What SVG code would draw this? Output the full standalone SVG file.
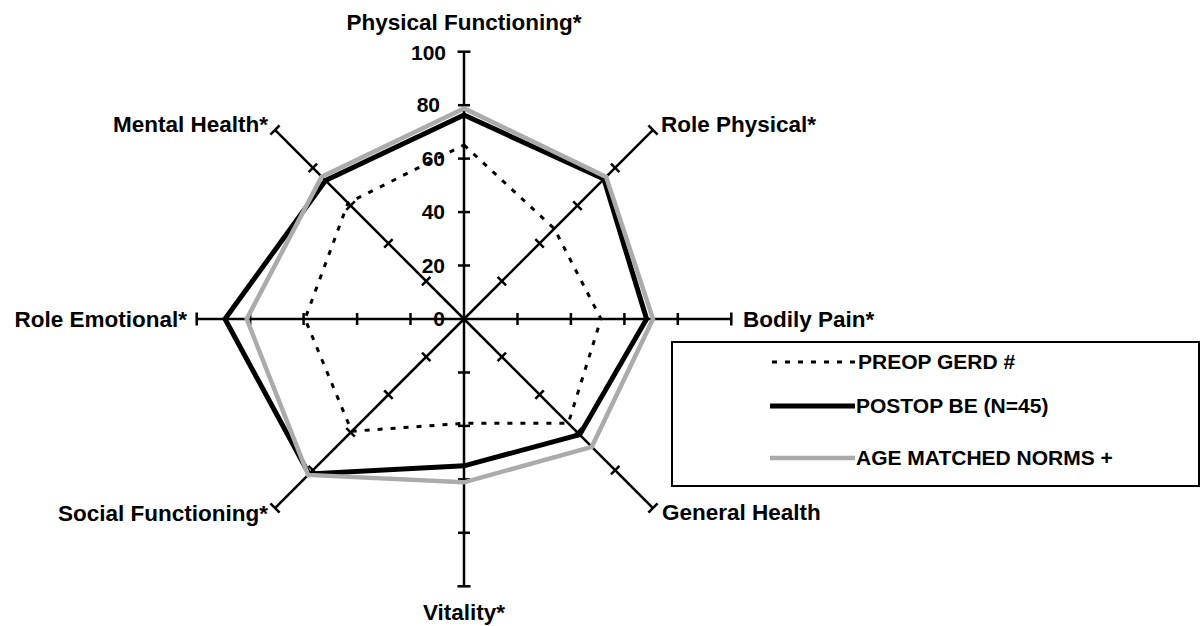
<svg xmlns="http://www.w3.org/2000/svg" xmlns:xlink="http://www.w3.org/1999/xlink" width="1202" height="626" viewBox="0 0 1202 626">
<style>
.lbl{font-family:"Liberation Sans",Arial,sans-serif;font-weight:bold;font-size:22.5px;fill:#000}
.num{font-family:"Liberation Sans",Arial,sans-serif;font-weight:bold;font-size:21px;fill:#000;text-anchor:end}
.leg{font-family:"Liberation Sans",Arial,sans-serif;font-weight:bold;font-size:21px;fill:#000}
.ax{stroke:#000;stroke-width:2.5;fill:none}
.pre{stroke:#000;stroke-width:3;stroke-dasharray:5 8;fill:none}
.post{stroke:#000;stroke-width:5;fill:none;stroke-linejoin:miter}
.norm{stroke:#ababab;stroke-width:4.5;fill:none;stroke-linejoin:miter}
</style>
<defs>
<g id="axis">
<line class="ax" x1="464" y1="319" x2="464" y2="51.7"/>
<line class="ax" x1="458" y1="265.5" x2="470" y2="265.5"/>
<line class="ax" x1="458" y1="212.1" x2="470" y2="212.1"/>
<line class="ax" x1="458" y1="158.6" x2="470" y2="158.6"/>
<line class="ax" x1="458" y1="105.2" x2="470" y2="105.2"/>
<line class="ax" x1="457.5" y1="51.7" x2="470.5" y2="51.7"/>
</g>
</defs>
<rect width="1202" height="626" fill="#fff"/>
<g id="axes">
<use xlink:href="#axis"/>
<use xlink:href="#axis" transform="rotate(45 464 319)"/>
<use xlink:href="#axis" transform="rotate(90 464 319)"/>
<use xlink:href="#axis" transform="rotate(135 464 319)"/>
<use xlink:href="#axis" transform="rotate(180 464 319)"/>
<use xlink:href="#axis" transform="rotate(225 464 319)"/>
<use xlink:href="#axis" transform="rotate(270 464 319)"/>
<use xlink:href="#axis" transform="rotate(315 464 319)"/>
</g>
<g id="scale">
<text class="num" x="446" y="60">100</text>
<text class="num" x="440" y="112">80</text>
<text class="num" x="445" y="166">60</text>
<text class="num" x="445" y="219">40</text>
<text class="num" x="445" y="273">20</text>
<text class="num" x="445" y="326">0</text>
</g>
<g id="series">
<polygon id="preop" class="pre" points="464,145 554.3,228.7 601,319 568.3,423.3 464,423.3 351.7,431.3 305,319 348,203"/>
<polygon id="postop" class="post" points="464,115 603.9,179.1 646.6,319 579.7,434.7 464,465.8 309,474 225,319 325.5,180.5"/>
<polygon id="norms" class="norm" points="464,108.4 606.1,176.9 653,319 591.8,446.8 464,482.3 308.1,474.9 246.7,319 321.7,176.7"/>
</g>
<g id="labels">
<text class="lbl" x="464" y="30" text-anchor="middle">Physical Functioning*</text>
<text class="lbl" x="661" y="132">Role Physical*</text>
<text class="lbl" x="743" y="327">Bodily Pain*</text>
<text class="lbl" x="662" y="520">General Health</text>
<text class="lbl" x="464" y="620" text-anchor="middle">Vitality*</text>
<text class="lbl" x="268" y="521" text-anchor="end">Social Functioning*</text>
<text class="lbl" x="187" y="327" text-anchor="end">Role Emotional*</text>
<text class="lbl" x="268" y="132" text-anchor="end">Mental Health*</text>
</g>
<g id="legend">
<rect x="672" y="342" width="527" height="144" fill="none" stroke="#000" stroke-width="2"/>
<line class="pre" x1="772" y1="362" x2="855" y2="362"/>
<text class="leg" x="858" y="369">PREOP GERD #</text>
<line class="post" x1="770" y1="406" x2="855" y2="406"/>
<text class="leg" x="856" y="413">POSTOP BE (N=45)</text>
<line class="norm" x1="770" y1="458" x2="855" y2="458"/>
<text class="leg" x="856" y="465">AGE MATCHED NORMS +</text>
</g>
</svg>
